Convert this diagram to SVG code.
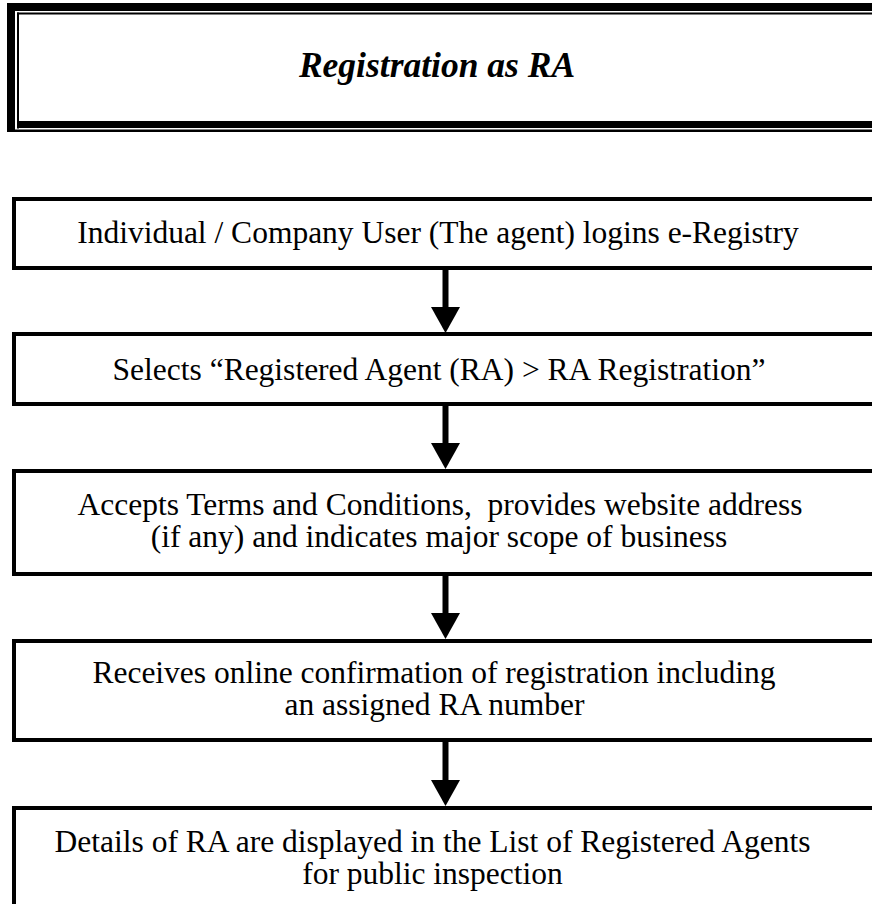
<svg xmlns="http://www.w3.org/2000/svg" width="872" height="904" viewBox="0 0 872 904">
<style>
.box{fill:#fff;stroke:#000;stroke-width:4}
.t{font-family:"Liberation Serif","Times New Roman",serif;font-size:31.5px;fill:#000;text-anchor:middle;white-space:pre}
.title{font-family:"Liberation Serif","Times New Roman",serif;font-size:35.5px;font-weight:bold;font-style:italic;fill:#000;text-anchor:middle}
.arrow{stroke:#000;stroke-width:6;fill:none}
</style>
<defs>
<marker id="ah" markerUnits="userSpaceOnUse" markerWidth="26" markerHeight="29" viewBox="0 0 26 29" refX="0" refY="14.5" orient="auto">
<path d="M0,0 L26,14.5 L0,29 Z" fill="#000"/>
</marker>
</defs>
<rect width="872" height="904" fill="#fff"/>
<g id="title">
<rect x="7" y="3" width="870" height="8" fill="#000"/>
<rect x="7" y="3" width="8" height="129" fill="#000"/>
<rect x="17" y="12.5" width="860" height="2" fill="#000"/>
<rect x="17" y="12.5" width="2" height="116" fill="#000"/>
<rect x="19" y="121" width="858" height="7" fill="#000"/>
<rect x="15" y="129.5" width="862" height="2.5" fill="#000"/>
<text class="title" x="437" y="76.5">Registration as RA</text>
</g>
<g id="connectors">
<line class="arrow" x1="445.5" y1="268" x2="445.5" y2="307" marker-end="url(#ah)"/>
<line class="arrow" x1="445.5" y1="404" x2="445.5" y2="443" marker-end="url(#ah)"/>
<line class="arrow" x1="445.5" y1="574" x2="445.5" y2="613" marker-end="url(#ah)"/>
<line class="arrow" x1="445.5" y1="740" x2="445.5" y2="780" marker-end="url(#ah)"/>
</g>
<g id="step1">
<rect class="box" x="14" y="199" width="880" height="69"/>
<text class="t" x="438" y="243">Individual / Company User (The agent) logins e-Registry</text>
</g>
<g id="step2">
<rect class="box" x="14" y="334" width="880" height="70"/>
<text class="t" x="439" y="380">Selects “Registered Agent (RA) &gt; RA Registration”</text>
</g>
<g id="step3">
<rect class="box" x="14" y="471" width="880" height="103"/>
<text class="t" x="440" y="515">Accepts Terms and Conditions,  provides website address</text>
<text class="t" x="439" y="547">(if any) and indicates major scope of business</text>
</g>
<g id="step4">
<rect class="box" x="14" y="641" width="880" height="99"/>
<text class="t" x="434" y="683">Receives online confirmation of registration including</text>
<text class="t" x="434.5" y="715">an assigned RA number</text>
</g>
<g id="step5">
<rect class="box" x="14" y="808" width="880" height="120"/>
<text class="t" x="432.5" y="852">Details of RA are displayed in the List of Registered Agents</text>
<text class="t" x="432.5" y="884">for public inspection</text>
</g>
</svg>
